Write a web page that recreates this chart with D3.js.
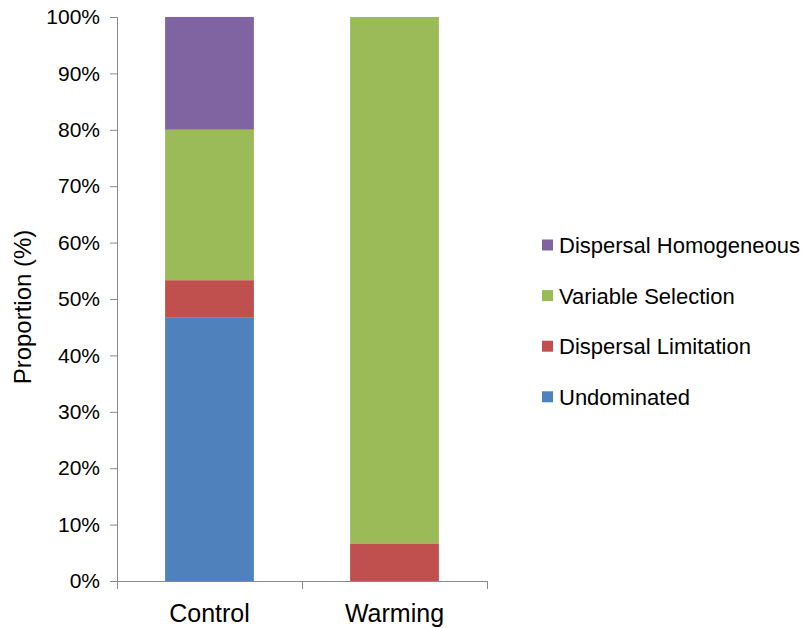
<!DOCTYPE html>
<html>
<head>
<meta charset="utf-8">
<script src="https://cdn.jsdelivr.net/npm/d3@7"></script>
<style>
  html, body { margin: 0; padding: 0; background: #fff; }
  svg { display: block; font-family: "Liberation Sans", Arial, sans-serif; }
</style>
</head>
<body>
<svg id="chart" width="809" height="628"></svg>
<script>
const categories = ["Control", "Warming"];
const seriesNames = ["Undominated", "Dispersal Limitation", "Variable Selection", "Dispersal Homogeneous"];
const undominated = [46.67, 0];
const dispersalLimitation = [6.67, 6.67];
const variableSelection = [26.67, 93.33];
const dispersalHomogeneous = [20, 0];
const yTicks = [0, 10, 20, 30, 40, 50, 60, 70, 80, 90, 100];
const colors = ["#4F81BD", "#C0504D", "#9BBB59", "#8064A2"];

const seriesValues = [undominated, dispersalLimitation, variableSelection, dispersalHomogeneous];
const rows = categories.map((c, i) => {
  const r = { category: c };
  seriesNames.forEach((s, j) => r[s] = seriesValues[j][i]);
  return r;
});

const svg = d3.select("#chart");
const margin = { left: 117, top: 17, right: 322, bottom: 47 };
const W = 809, H = 628;
const x0 = margin.left, x1 = W - margin.right;
const y0 = H - margin.bottom, y1 = margin.top;

const x = d3.scaleBand().domain(categories).range([x0, x1]).paddingInner(0.52).paddingOuter(0.26);
const y = d3.scaleLinear().domain([0, 100]).range([y0, y1]);
const stack = d3.stack().keys(seriesNames)(rows);
const axisColor = "#898989";

// bars
svg.append("g").selectAll("g").data(stack).join("g")
  .attr("fill", (d, i) => colors[i])
  .selectAll("rect").data(d => d).join("rect")
  .attr("x", d => x(d.data.category))
  .attr("width", x.bandwidth())
  .attr("y", d => y(d[1]))
  .attr("height", d => y(d[0]) - y(d[1]));

// y axis
const yAxis = svg.append("g").attr("transform", `translate(${x0},0)`)
  .call(d3.axisLeft(y).tickValues(yTicks).tickFormat(d => d + "%").tickSize(7).tickPadding(10));
yAxis.select(".domain").attr("stroke", axisColor);
yAxis.selectAll(".tick line").attr("stroke", axisColor);
yAxis.selectAll("text").attr("font-size", 21).attr("fill", "#000").attr("font-family", "Liberation Sans, Arial, sans-serif");

// x axis
const xLine = svg.append("g");
xLine.append("line").attr("x1", x0).attr("x2", x1).attr("y1", y0 + 0.5).attr("y2", y0 + 0.5).attr("stroke", axisColor);
const boundaries = [x0, (x(categories[0]) + x.bandwidth() + x(categories[1])) / 2, x1];
xLine.selectAll("line.t").data(boundaries).join("line").attr("class", "t")
  .attr("x1", d => Math.round(d) + 0.5).attr("x2", d => Math.round(d) + 0.5)
  .attr("y1", y0).attr("y2", y0 + 8).attr("stroke", axisColor);
svg.append("g").selectAll("text").data(categories).join("text")
  .attr("x", d => x(d) + x.bandwidth() / 2)
  .attr("y", y0 + 41)
  .attr("text-anchor", "middle")
  .attr("font-size", 25)
  .attr("fill", "#000")
  .text(d => d);

// y title
svg.append("text")
  .attr("transform", `translate(31,${(y0 + y1) / 2 + 8}) rotate(-90)`)
  .attr("text-anchor", "middle")
  .attr("font-size", 24)
  .attr("fill", "#000")
  .text("Proportion (%)");

// legend (reverse order)
const legendItems = seriesNames.map((s, i) => ({ name: s, color: colors[i] })).reverse();
const lg = svg.append("g").attr("transform", "translate(542,245)");
const item = lg.selectAll("g").data(legendItems).join("g")
  .attr("transform", (d, i) => `translate(0,${i * 50.6})`);
item.append("rect").attr("x", 0).attr("y", -5.5).attr("width", 11).attr("height", 11).attr("fill", d => d.color);
item.append("text").attr("x", 17).attr("y", 8).attr("font-size", 22).attr("fill", "#000").text(d => d.name);
</script>
</body>
</html>
